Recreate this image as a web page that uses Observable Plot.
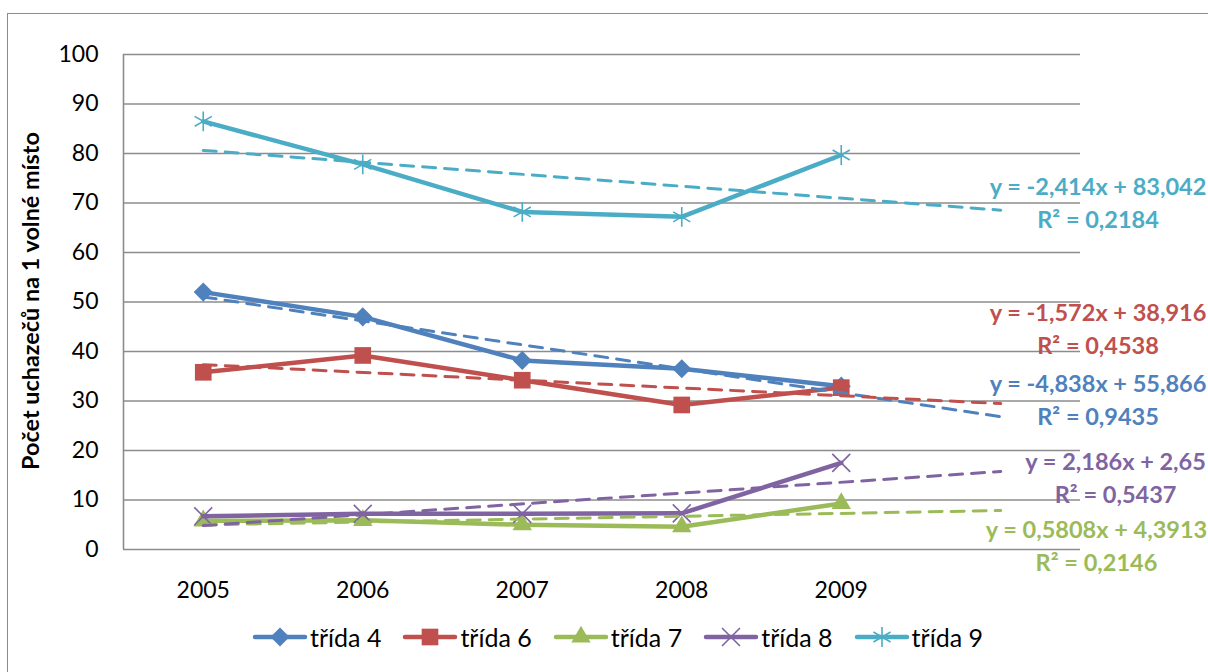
<!DOCTYPE html>
<html>
<head>
<meta charset="utf-8">
<script src="https://cdn.jsdelivr.net/npm/d3@7"></script>
<script src="https://cdn.jsdelivr.net/npm/@observablehq/plot@0.6"></script>
<style>
  html, body { margin: 0; padding: 0; background: #fff; }
  #wrap { position: relative; width: 1208px; height: 672px; overflow: hidden; font-family: Lato, "Noto Sans", sans-serif; }
  #frame { position: absolute; left: 7px; top: 13px; width: 1400px; height: 900px; border: 1.5px solid #8c8c8c; box-sizing: border-box; }
  #chart { position: absolute; left: 0; top: 0; }
  #ytitle { position: absolute; left: 30px; top: 301px; transform: translate(-50%, -50%) rotate(-90deg); font-weight: bold; font-size: 23.4px; white-space: nowrap; color: #000; }
  #legend { position: absolute; top: 622px; left: 252px; display: flex; align-items: center; font-size: 25px; color: #000; }
  .item { display: flex; align-items: center; margin-right: 21px; }
  .item svg { display: block; margin-right: 2px; }
</style>
</head>
<body>
<div id="wrap">
  <div id="frame"></div>
  <div id="chart"></div>
  <div id="ytitle">Počet uchazečů na 1 volné místo</div>
  <div id="legend"></div>
</div>
<script>
// ---- data ----
const years = ["2005", "2006", "2007", "2008", "2009"];
const seriesNames = ["třída 4", "třída 6", "třída 7", "třída 8", "třída 9"];
const trida4 = [52.0, 47.0, 38.2, 36.5, 33.0];
const trida6 = [35.8, 39.2, 34.2, 29.2, 32.7];
const trida7 = [5.8, 5.9, 5.0, 4.6, 9.3];
const trida8 = [6.7, 7.2, 7.2, 7.3, 17.5];
const trida9 = [86.5, 77.8, 68.2, 67.2, 79.7];
const trendSlopes = [-4.838, -1.572, 0.5808, 2.186, -2.414];
const trendIntercepts = [55.866, 38.916, 4.3913, 2.65, 83.042];
const equationLabels = ["y = -4,838x + 55,866", "y = -1,572x + 38,916", "y = 0,5808x + 4,3913", "y = 2,186x + 2,65", "y = -2,414x + 83,042"];
const r2Labels = ["R² = 0,9435", "R² = 0,4538", "R² = 0,2146", "R² = 0,5437", "R² = 0,2184"];
const yTicks = [0, 10, 20, 30, 40, 50, 60, 70, 80, 90, 100];

// ---- styling (not data) ----
const colors = ["#4F81BD", "#C0504D", "#9BBB59", "#8064A2", "#4BACC6"];
const symbols = ["diamond2", "square", "triangle", "times", "asterisk"];
const symbolR = [8.6, 9.4, 7.2, 8.2, 9.4];
const filled = [true, true, true, false, false];
// label anchors (annotation placement)
const labelX = [6.61, 6.61, 6.6, 6.72, 6.61];
const labelY = [33.3, 47.7, 3.8, 17.6, 73.1];

const allValues = [trida4, trida6, trida7, trida8, trida9];
const points = [];
allValues.forEach((vals, s) => vals.forEach((v, i) => points.push({s, x: i + 1, y: v})));
const trends = [];
trendSlopes.forEach((a, s) => {
  [1, 6].forEach(x => trends.push({s, x, y: a * x + trendIntercepts[s]}));
});
const labels = [];
equationLabels.forEach((t, s) => {
  labels.push({s, x: labelX[s], y: labelY[s], text: t});
  labels.push({s, x: labelX[s], y: labelY[s] - 6.6, text: r2Labels[s]});
});

const marks = [
  Plot.ruleY(yTicks, {stroke: "#8c8c8c", strokeWidth: 1.6}),
  Plot.ruleX([0.5], {y1: 0, y2: 100, stroke: "#8c8c8c", strokeWidth: 1.6}),
  Plot.axisY({ticks: yTicks, tickSize: 0, tickPadding: 25, fontSize: 23, fill: "#000", label: null}),
  Plot.axisX({ticks: [1, 2, 3, 4, 5], tickFormat: d => years[d - 1], tickSize: 0, tickPadding: 32, fontSize: 23, fill: "#000", label: null})
];
for (let s = 0; s < 5; s++) {
  const pts = points.filter(d => d.s === s);
  marks.push(Plot.line(pts, {x: "x", y: "y", stroke: colors[s], strokeWidth: 4.5, strokeLinejoin: "round", strokeLinecap: "round"}));
  marks.push(Plot.dot(pts, {
    x: "x", y: "y", symbol: symbols[s], r: symbolR[s],
    fill: filled[s] ? colors[s] : "none",
    stroke: filled[s] ? "none" : colors[s],
    strokeWidth: 1.6
  }));
}
for (let s = 0; s < 5; s++) {
  marks.push(Plot.line(trends.filter(d => d.s === s), {x: "x", y: "y", stroke: colors[s], strokeWidth: 3, strokeDasharray: "13,9", strokeLinecap: "round"}));
}
marks.push(Plot.text(labels, {x: "x", y: "y", text: "text", fill: d => colors[d.s], fontWeight: "bold", fontSize: 23.5, textAnchor: "middle"}));

const chart = Plot.plot({
  width: 1208,
  height: 610,
  marginLeft: 123,
  marginRight: 128,
  marginTop: 54,
  marginBottom: 61,
  style: {fontFamily: "Lato, 'Noto Sans', sans-serif", background: "transparent", overflow: "visible"},
  x: {type: "linear", domain: [0.5, 6.5]},
  y: {domain: [0, 100]},
  marks
});
document.getElementById("chart").appendChild(chart);

// ---- legend ----
const legend = document.getElementById("legend");
seriesNames.forEach((name, s) => {
  const item = document.createElement("div");
  item.className = "item";
  const svg = d3.create("svg").attr("width", 56).attr("height", 24);
  svg.append("line").attr("x1", 3).attr("x2", 53).attr("y1", 12).attr("y2", 12)
    .attr("stroke", colors[s]).attr("stroke-width", 4.5).attr("stroke-linecap", "round");
  const symMap = {diamond2: d3.symbolDiamond2, square: d3.symbolSquare, triangle: d3.symbolTriangle, times: d3.symbolTimes, asterisk: d3.symbolAsterisk};
  svg.append("path").attr("transform", "translate(28,12)")
    .attr("d", d3.symbol(symMap[symbols[s]], Math.PI * symbolR[s] * symbolR[s])())
    .attr("fill", filled[s] ? colors[s] : "none")
    .attr("stroke", filled[s] ? "none" : colors[s]).attr("stroke-width", 1.6);
  item.appendChild(svg.node());
  const span = document.createElement("span");
  span.textContent = name;
  item.appendChild(span);
  legend.appendChild(item);
});
</script>
</body>
</html>
